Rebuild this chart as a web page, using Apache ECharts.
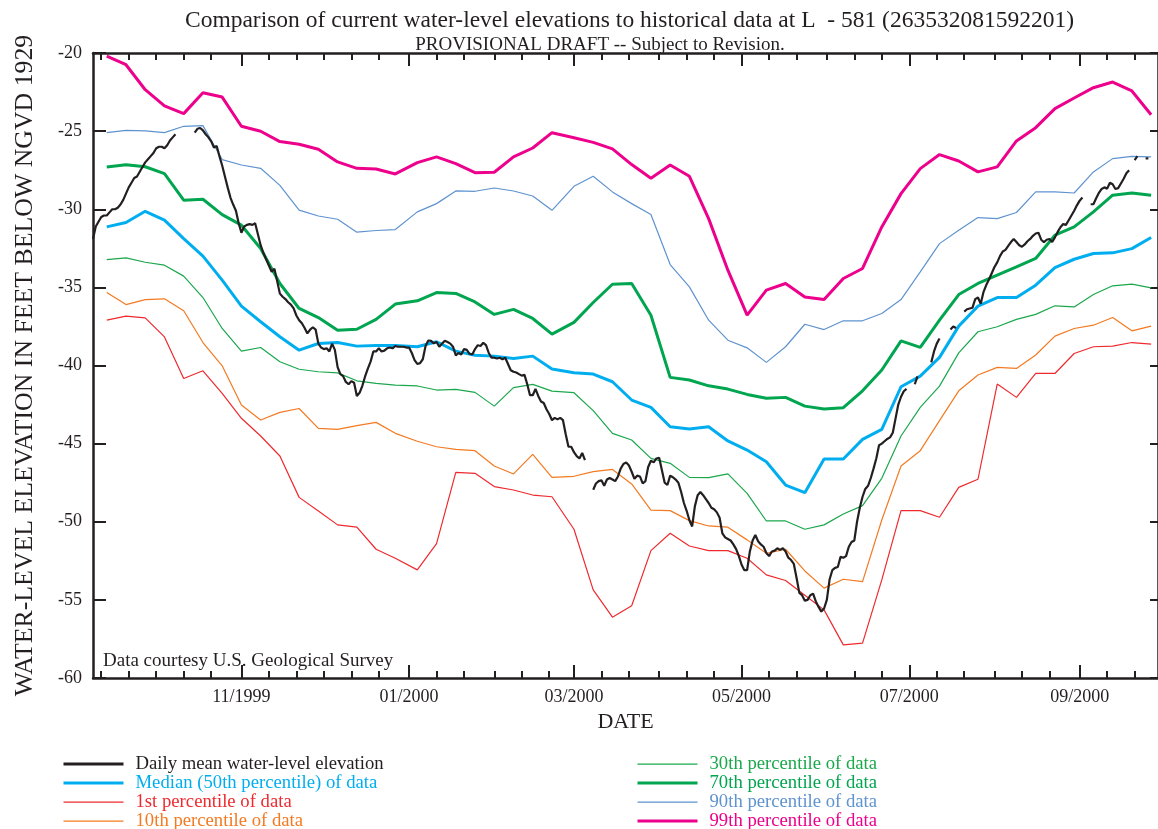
<!DOCTYPE html>
<html>
<head>
<meta charset="utf-8">
<title>L - 581 water levels</title>
<script src="https://cdn.jsdelivr.net/npm/echarts@6/dist/echarts.min.js"></script>
<style>
  html, body { margin: 0; padding: 0; background: #fff; }
  #chart { width: 1158px; height: 829px; }
</style>
</head>
<body>
<div id="chart"></div>
<script>
// ---- Weekly percentile statistics (dates of each statistic) ----
const statDates = [
  '1999-09-13','1999-09-20','1999-09-27','1999-10-04','1999-10-11','1999-10-18','1999-10-25',
  '1999-11-01','1999-11-08','1999-11-15','1999-11-22','1999-11-29','1999-12-06','1999-12-13',
  '1999-12-20','1999-12-27','2000-01-04','2000-01-11','2000-01-18','2000-01-25','2000-02-01',
  '2000-02-08','2000-02-15','2000-02-22','2000-03-01','2000-03-08','2000-03-15','2000-03-22',
  '2000-03-29','2000-04-05','2000-04-12','2000-04-19','2000-04-26','2000-05-03','2000-05-10',
  '2000-05-17','2000-05-24','2000-05-31','2000-06-07','2000-06-14','2000-06-21','2000-06-28',
  '2000-07-05','2000-07-12','2000-07-19','2000-07-26','2000-08-02','2000-08-09','2000-08-16',
  '2000-08-23','2000-08-30','2000-09-06','2000-09-13','2000-09-20','2000-09-27'
];

const pct99 = [-20.20,-20.75,-22.35,-23.39,-23.88,-22.54,-22.82,-24.69,-25.01,-25.67,
  -25.84,-26.16,-26.97,-27.38,-27.42,-27.74,-27.02,-26.65,-27.08,-27.66,
  -27.63,-26.65,-26.08,-25.10,-25.42,-25.72,-26.14,-27.14,-28.02,-27.17,
  -27.89,-30.60,-33.90,-36.78,-35.18,-34.75,-35.61,-35.78,-34.43,-33.79,
  -31.13,-29.00,-27.40,-26.50,-26.91,-27.61,-27.29,-25.63,-24.78,-23.56,
  -22.88,-22.22,-21.86,-22.43,-23.95];

const pct90 = [-25.10,-24.95,-24.99,-25.10,-24.69,-24.65,-26.82,-27.17,-27.38,-28.47,
  -30.06,-30.43,-30.64,-31.47,-31.36,-31.30,-30.17,-29.64,-28.83,-28.85,
  -28.64,-28.83,-29.15,-30.07,-28.53,-27.89,-28.89,-29.64,-30.34,-33.54,
  -34.97,-37.10,-38.38,-38.87,-39.80,-38.80,-37.36,-37.70,-37.14,-37.14,
  -36.67,-35.78,-34.01,-32.20,-31.34,-30.53,-30.60,-30.21,-28.89,-28.89,
  -28.96,-27.61,-26.76,-26.61,-26.65];

const pct70 = [-27.30,-27.15,-27.28,-27.72,-29.42,-29.36,-30.34,-31.02,-32.51,-34.75,
  -36.35,-36.93,-37.74,-37.68,-37.05,-36.07,-35.86,-35.33,-35.39,-35.93,
  -36.73,-36.41,-36.99,-37.99,-37.24,-35.97,-34.80,-34.75,-36.78,-40.76,
  -40.93,-41.30,-41.51,-41.85,-42.10,-42.04,-42.60,-42.79,-42.70,-41.62,
  -40.29,-38.42,-38.84,-37.10,-35.46,-34.75,-34.22,-33.69,-33.15,-31.66,
  -31.13,-30.17,-29.10,-28.96,-29.10];

const pct50 = [-31.13,-30.85,-30.13,-30.70,-31.88,-33.00,-34.54,-36.20,-37.20,-38.16,
  -39.02,-38.59,-38.53,-38.76,-38.72,-38.72,-38.80,-38.48,-39.08,-39.34,
  -39.40,-39.55,-39.40,-40.23,-40.46,-40.55,-41.04,-42.21,-42.68,-43.92,
  -44.07,-43.92,-44.83,-45.41,-46.16,-47.65,-48.14,-45.98,-45.98,-44.73,
  -44.09,-41.36,-40.68,-39.48,-37.48,-36.20,-35.65,-35.65,-34.86,-33.73,
  -33.20,-32.83,-32.79,-32.52,-31.81];

const pct30 = [-33.22,-33.11,-33.39,-33.58,-34.28,-35.65,-37.63,-39.08,-38.85,-39.76,
  -40.24,-40.40,-40.47,-40.98,-41.15,-41.25,-41.31,-41.57,-41.53,-41.72,
  -42.60,-41.42,-41.21,-41.64,-41.74,-42.89,-44.34,-44.77,-45.94,-46.26,
  -47.16,-47.18,-46.94,-48.18,-49.95,-49.95,-50.48,-50.20,-49.50,-48.97,
  -47.22,-44.51,-42.68,-41.32,-39.19,-37.84,-37.52,-37.05,-36.73,-36.18,
  -36.25,-35.46,-34.90,-34.79,-35.03];

const pct10 = [-35.33,-36.10,-35.78,-35.73,-36.50,-38.53,-40.02,-42.53,-43.49,-43.00,
  -42.75,-44.02,-44.09,-43.85,-43.64,-44.34,-44.85,-45.20,-45.37,-45.45,
  -46.43,-46.94,-45.69,-47.16,-47.09,-46.79,-46.65,-47.58,-49.25,-49.29,
  -49.93,-50.27,-50.35,-51.16,-52.02,-51.76,-53.15,-54.25,-53.68,-53.83,
  -49.89,-46.43,-45.45,-43.53,-41.62,-40.61,-40.12,-40.19,-39.33,-38.12,
  -37.63,-37.42,-36.93,-37.78,-37.48];

const pct1 = [-37.10,-36.84,-36.95,-38.17,-40.83,-40.34,-41.79,-43.38,-44.51,-45.79,
  -48.44,-49.31,-50.20,-50.35,-51.76,-52.34,-53.08,-51.40,-46.84,-46.90,
  -47.75,-47.97,-48.29,-48.40,-50.48,-54.36,-56.11,-55.38,-51.85,-50.74,
  -51.55,-51.85,-51.85,-52.34,-53.40,-53.76,-54.70,-55.64,-57.88,-57.77,
  -53.72,-49.29,-49.29,-49.71,-47.80,-47.28,-41.19,-42.04,-40.51,-40.51,
  -39.23,-38.80,-38.76,-38.53,-38.63];

// ---- Daily mean water level, one value per day from dailyStart (null = no record) ----
const dailyStart = '1999-09-08';
const dailyLevel = [
  -31.9,-31.1,-30.8,-30.5,-30.4,-30.4,-30.2,-30.0,-30.0,-29.9,
  -29.7,-29.4,-29.0,-28.6,-28.3,-28.0,-27.9,-27.6,-27.3,-27.0,
  -26.8,-26.6,-26.4,-26.1,-26.0,-26.0,-26.1,-25.9,-25.6,-25.4,
  -25.2,
  null,null,null,null,null,null,
  -25.1,-24.85,-24.8,-24.95,-25.2,-25.4,-25.65,-26.05,-25.95,-26.6,
  -27.2,-27.9,-28.6,-29.25,-29.7,-30.1,-30.9,-31.5,-31.1,-31.0,
  -30.95,-31.0,-30.9,-31.6,-32.3,-32.8,-33.2,-33.6,-34.0,-33.8,
  -34.6,-35.4,-35.6,-35.75,-35.95,-36.1,-36.35,-36.8,-37.1,-37.3,
  -37.6,-37.95,-37.7,-37.55,-37.7,-38.6,-38.85,-38.95,-38.9,-39.1,
  -38.6,-39.0,-40.1,-40.55,-40.68,-41.05,-41.2,-41.0,-41.1,-41.95,
  -41.75,-41.3,-40.7,-40.2,-39.75,-39.1,-39.1,-38.9,-39.1,-39.05,
  -38.9,-38.85,-38.9,-38.75,-38.8,-38.8,-38.8,-38.85,-38.85,-39.2,
  -39.65,-39.9,-39.85,-39.6,-38.75,-38.4,-38.42,-38.58,-38.5,-38.8,
  -38.6,-38.42,-38.5,-38.6,-38.8,-39.35,-39.2,-39.3,-38.95,-39.0,
  -39.25,-39.3,-38.95,-38.7,-38.75,-38.55,-38.7,-39.2,-39.5,-39.5,
  -39.55,-39.5,-39.6,-39.5,-39.9,-40.3,-40.4,-40.45,-40.55,-40.65,
  -40.6,-41.2,-41.9,-41.9,-41.5,-41.95,-42.3,-42.4,-42.8,-43.1,
  -43.5,-43.35,-43.45,-43.35,-43.5,-44.4,-45.2,-45.2,-45.55,-45.8,
  -45.95,-45.6,-46.05,
  null,null,
  -47.95,-47.55,-47.4,-47.35,-47.7,-47.3,-47.2,-47.3,-47.4,-47.1,
  -46.6,-46.3,-46.2,-46.4,-46.8,-47.25,-47.05,-47.1,-47.55,-47.4,
  -46.5,-46.1,-46.2,-45.95,-45.9,-46.7,-47.5,-47.65,-47.05,-47.15,
  -47.3,-47.5,-48.1,-48.8,-49.3,-49.9,-50.3,-49.0,-48.3,-48.1,
  -48.3,-48.55,-48.8,-49.1,-49.2,-49.4,-49.75,-50.75,-51.0,-51.1,
  -51.2,-51.45,-51.75,-52.2,-52.75,-53.1,-53.1,-51.9,-51.2,-50.85,
  -51.25,-51.45,-51.6,-52.0,-52.2,-51.9,-51.85,-51.7,-51.8,-51.7,
  -51.9,-52.3,-52.45,-52.7,-53.6,-54.55,-54.7,-55.05,-55.0,-54.7,
  -54.6,-55.1,-55.45,-55.75,-55.55,-55.0,-53.7,-53.1,-52.95,-52.9,
  -52.25,-52.3,-52.2,-51.6,-51.3,-51.2,-50.0,-49.1,-48.4,-47.9,
  -47.7,-47.2,-46.6,-45.95,-45.1,-45.0,-44.85,-44.7,-44.6,-44.3,
  -43.4,-42.5,-42.0,-41.65,-41.5,
  null,null,
  -41.2,-40.7,
  null,null,null,null,
  -39.8,-39.1,-38.6,-38.27,
  null,null,null,
  -37.7,-37.5,-37.6,
  null,null,
  -36.55,-36.4,-36.35,-36.3,-35.75,-35.65,-36.05,-35.3,-34.85,-34.5,
  -34.1,-33.7,-33.4,-33.0,-32.7,-32.6,-32.35,-32.1,-31.9,-32.1,
  -32.3,-32.4,-32.25,-32.05,-31.9,-31.7,-31.55,-31.5,-31.95,-32.1,
  -31.95,-31.9,-32.1,-31.8,-31.45,-31.15,-30.95,-31.0,-30.7,-30.4,
  -30.1,-29.75,-29.45,-29.25,
  null,null,
  -29.68,-29.68,-29.3,-28.95,-28.7,-28.6,-28.68,-28.3,-28.4,-28.7,
  -28.65,-28.35,-28.05,-27.7,-27.5,
  null,
  -26.85,-26.6,
  null,null,
  -26.75,-26.75
];

// ---- Axis ticks ----
const majorTickDates  = ['1999-11-01','2000-01-01','2000-03-01','2000-05-01','2000-07-01','2000-09-01'];
const majorTickLabels = ['11/1999','01/2000','03/2000','05/2000','07/2000','09/2000'];
const minorTickDays   = [1, 11, 21];   // ticks on the 1st, 11th and 21st of each month

const FONT = '"Liberation Serif", "Times New Roman", serif';
const INK = '#231f20';

function ts(s) {
  const p = s.split('-').map(Number);
  return new Date(p[0], p[1] - 1, p[2]).getTime();
}

const xMin = ts('1999-09-08');
const xMax = new Date(2000, 8, 29, 12).getTime();

const majorTicks = majorTickDates.map(ts);
const minorTicks = [];
for (let i = 0; i < 14; i++) {
  const y = 1999 + Math.floor((8 + i) / 12);
  const m = (8 + i) % 12;
  minorTickDays.forEach(d => {
    const t = new Date(y, m, d).getTime();
    if (t > xMin && t < xMax) minorTicks.push(t);
  });
}

function pairs(values) {
  return statDates.map((d, i) => [ts(d), values[i]]);
}
const d0 = new Date(ts(dailyStart));
const dailyData = dailyLevel.map((v, i) =>
  [new Date(d0.getFullYear(), d0.getMonth(), d0.getDate() + i).getTime(), v]);

// ---- Series appearance ----
const statSeries = [
  { name: '1st percentile of data',           data: pct1,  color: '#ee2a2e', width: 1.2 },
  { name: '10th percentile of data',          data: pct10, color: '#f47a22', width: 1.2 },
  { name: '30th percentile of data',          data: pct30, color: '#1ba84c', width: 1.2 },
  { name: '90th percentile of data',          data: pct90, color: '#5f93cf', width: 1.2 },
  { name: '70th percentile of data',          data: pct70, color: '#00a54f', width: 3 },
  { name: 'Median (50th percentile) of data', data: pct50, color: '#00aeef', width: 3 },
  { name: '99th percentile of data',          data: pct99, color: '#ec008c', width: 3 }
];
const dailyName = 'Daily mean water-level elevation';
const dailyWidth = 2.2;

const series = statSeries.map(s => ({
  name: s.name,
  type: 'line',
  xAxisIndex: 0,
  yAxisIndex: 0,
  data: pairs(s.data),
  symbol: 'none',
  color: s.color,
  lineStyle: { color: s.color, width: s.width },
  silent: true,
  animation: false
}));
series.push({
  name: dailyName,
  type: 'line',
  xAxisIndex: 0,
  yAxisIndex: 0,
  data: dailyData,
  symbol: 'none',
  connectNulls: false,
  color: INK,
  lineStyle: { color: INK, width: dailyWidth },
  silent: true,
  animation: false,
  z: 5
});

function styleOf(name) {
  if (name === dailyName) return { color: INK, width: 3 };
  const s = statSeries.find(x => x.name === name);
  return { color: s.color, width: s.width };
}
function legendItems(names) {
  return names.map(n => {
    const st = styleOf(n);
    return { name: n, textStyle: { color: st.color }, lineStyle: { width: st.width, color: st.color } };
  });
}
const legendBase = {
  orient: 'vertical',
  top: 754.6,
  height: 100,
  padding: 0,
  itemWidth: 60,
  itemHeight: 14,
  itemGap: 0,
  selectedMode: false,
  itemStyle: { opacity: 0 },
  textStyle: { fontFamily: FONT, fontSize: 18.7, lineHeight: 14, padding: [0, 0, 0, 7] }
};

// ---- Axes (x in epoch milliseconds) ----
const xCommon = {
  type: 'value', gridIndex: 0, min: xMin, max: xMax, scale: true,
  splitLine: { show: false }
};
const axisLineStyle = { color: INK, width: 2.5 };
const tickStyle = { color: INK, width: 2 };

function dateLabel(v) {
  let best = 0;
  majorTicks.forEach((t, i) => { if (Math.abs(t - v) < Math.abs(majorTicks[best] - v)) best = i; });
  return majorTickLabels[best];
}

const option = {
  backgroundColor: '#fff',
  animation: false,
  grid: { left: 93, right: -2, top: 53, bottom: 151, containLabel: false },
  xAxis: [
    Object.assign({}, xCommon, {
      position: 'bottom',
      axisLine: { show: true, onZero: false, lineStyle: axisLineStyle },
      axisTick: { show: true, inside: true, length: 13, lineStyle: tickStyle, customValues: majorTicks },
      axisLabel: {
        show: true, customValues: majorTicks, margin: 10,
        fontFamily: FONT, fontSize: 18, color: INK, formatter: dateLabel
      },
      name: 'DATE', nameLocation: 'middle', nameGap: 32,
      nameTextStyle: { fontFamily: FONT, fontSize: 22, color: INK }
    }),
    Object.assign({}, xCommon, {
      position: 'bottom',
      axisLine: { show: false, onZero: false },
      axisTick: { show: true, inside: true, length: 7, lineStyle: tickStyle, customValues: minorTicks },
      axisLabel: { show: false }
    }),
    Object.assign({}, xCommon, {
      position: 'top',
      axisLine: { show: true, onZero: false, lineStyle: axisLineStyle },
      axisTick: { show: true, inside: true, length: 13, lineStyle: tickStyle, customValues: majorTicks },
      axisLabel: { show: false }
    }),
    Object.assign({}, xCommon, {
      position: 'top',
      axisLine: { show: false, onZero: false },
      axisTick: { show: true, inside: true, length: 7, lineStyle: tickStyle, customValues: minorTicks },
      axisLabel: { show: false }
    })
  ],
  yAxis: [
    {
      type: 'value', position: 'left', min: -60, max: -20, interval: 5,
      splitLine: { show: false },
      axisLine: { show: true, onZero: false, lineStyle: axisLineStyle },
      axisTick: { show: true, inside: true, length: 13, lineStyle: tickStyle },
      axisLabel: { show: true, margin: 11, fontFamily: FONT, fontSize: 18, color: INK },
      name: 'WATER-LEVEL ELEVATION IN FEET BELOW NGVD 1929',
      nameLocation: 'middle', nameRotate: 90, nameGap: 55,
      nameTextStyle: { fontFamily: FONT, fontSize: 25.8, color: INK }
    },
    {
      type: 'value', position: 'right', min: -60, max: -20, interval: 5,
      splitLine: { show: false },
      axisLine: { show: true, onZero: false, lineStyle: axisLineStyle },
      axisTick: { show: true, inside: true, length: 8, lineStyle: tickStyle },
      axisLabel: { show: false }
    }
  ],
  legend: [
    Object.assign({}, legendBase, {
      left: 62,
      data: legendItems([dailyName, 'Median (50th percentile) of data',
        '1st percentile of data', '10th percentile of data'])
    }),
    Object.assign({}, legendBase, {
      left: 636,
      data: legendItems(['30th percentile of data', '70th percentile of data',
        '90th percentile of data', '99th percentile of data'])
    })
  ],
  graphic: [
    {
      type: 'text', x: 629.5, y: 21, silent: true,
      style: {
        text: 'Comparison of current water-level elevations to historical data at L  - 581 (263532081592201)',
        font: '23.5px "Liberation Serif", "Times New Roman", serif', fill: INK,
        textAlign: 'center', textVerticalAlign: 'middle', align: 'center', verticalAlign: 'middle'
      }
    },
    {
      type: 'text', x: 600, y: 45, silent: true,
      style: {
        text: 'PROVISIONAL DRAFT -- Subject to Revision.',
        font: '19px "Liberation Serif", "Times New Roman", serif', fill: INK,
        textAlign: 'center', textVerticalAlign: 'middle', align: 'center', verticalAlign: 'middle'
      }
    },
    {
      type: 'text', x: 103, y: 661, silent: true,
      style: {
        text: 'Data courtesy U.S. Geological Survey',
        font: '19px "Liberation Serif", "Times New Roman", serif', fill: INK,
        textAlign: 'left', textVerticalAlign: 'middle', align: 'left', verticalAlign: 'middle'
      }
    }
  ],
  series: series
};

const chart = echarts.init(document.getElementById('chart'), null, { renderer: 'canvas' });
chart.setOption(option);
</script>
</body>
</html>
